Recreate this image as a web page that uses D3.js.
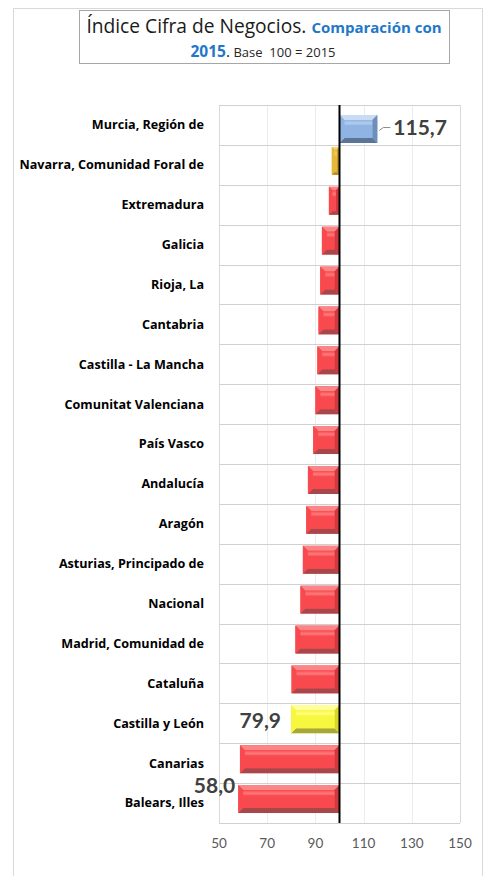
<!DOCTYPE html>
<html>
<head>
<meta charset="utf-8">
<script src="https://cdn.jsdelivr.net/npm/d3@7"></script>
<style>
  html, body { margin: 0; padding: 0; background: #fff; }
  svg { display: block; }
</style>
</head>
<body>
<svg id="chart" width="490" height="876"></svg>
<script>
// ---- data ----
const categories = [
  "Murcia, Región de", "Navarra, Comunidad Foral de", "Extremadura", "Galicia",
  "Rioja, La", "Cantabria", "Castilla - La Mancha", "Comunitat Valenciana",
  "País Vasco", "Andalucía", "Aragón", "Asturias, Principado de", "Nacional",
  "Madrid, Comunidad de", "Cataluña", "Castilla y León", "Canarias", "Balears, Illes"
];
const values = [115.7, 96.8, 95.6, 92.7, 92.0, 91.3, 90.8, 90.0, 89.1, 86.9,
                86.2, 84.8, 83.8, 81.7, 80.1, 79.9, 58.7, 58.0];
const barKind = ["max", "navarra", "red", "red", "red", "red", "red", "red", "red", "red",
                 "red", "red", "red", "red", "red", "cyl", "red", "red"];
const labelled = { "Murcia, Región de": "115,7", "Castilla y León": "79,9", "Balears, Illes": "58,0" };
const xTicks = [50, 70, 90, 110, 130, 150];
const baseValue = 100;

const palette = {
  red:     { face: "#f84a4e", light: "#fb8587", dark: "#a8474b", side: "#d0393e", hi: "#ff7a7d" },
  max:     { face: "#8fb4e3", light: "#c9dcf3", dark: "#5b7596", side: "#6f8fb8", hi: "#b4cdef" },
  navarra: { face: "#e6b83a", light: "#f3d57a", dark: "#a98a2e", side: "#c99c28", hi: "#f0cc66" },
  cyl:     { face: "#f7f740", light: "#ffff9a", dark: "#a8a83a", side: "#d6d62c", hi: "#ffff80" }
};

const svg = d3.select("#chart");

// outer chart frame
svg.append("rect").attr("x", 13.5).attr("y", 8.5).attr("width", 469).attr("height", 880)
  .attr("fill", "none").attr("stroke", "#d9d9d9").attr("stroke-width", 1);

// title box
svg.append("rect").attr("x", 79.5).attr("y", 10.5).attr("width", 370).attr("height", 53)
  .attr("fill", "#fff").attr("stroke", "#a6a6a6").attr("stroke-width", 1);

const t1 = svg.append("text").attr("x", 264).attr("y", 33).attr("text-anchor", "middle");
t1.append("tspan").text("Índice Cifra de Negocios. ")
  .attr("font-family", "'Open Sans', sans-serif").attr("font-size", 19.2).attr("fill", "#1a1a1a");
t1.append("tspan").text("Comparación con")
  .attr("font-family", "'Open Sans', sans-serif").attr("font-weight", "bold").attr("font-size", 15).attr("fill", "#1f78c8");

const t2 = svg.append("text").attr("x", 263).attr("y", 57).attr("text-anchor", "middle");
t2.append("tspan").text("2015")
  .attr("font-family", "'Open Sans', sans-serif").attr("font-weight", "bold").attr("font-size", 15.5).attr("fill", "#1f78c8");
t2.append("tspan").text(".")
  .attr("font-family", "'Open Sans', sans-serif").attr("font-size", 15.5).attr("fill", "#1a1a1a");
t2.append("tspan").text(" Base  100 = 2015").attr("xml:space", "preserve").style("white-space", "pre")
  .attr("font-family", "'Open Sans', sans-serif").attr("font-size", 13).attr("fill", "#262626");

// ---- scales ----
const plot = { left: 219, right: 460, top: 105, bottom: 823 };
const x = d3.scaleLinear().domain([50, 150]).range([plot.left, plot.right]);
const y = d3.scaleBand().domain(categories).range([plot.top, plot.bottom]).padding(0);
const bw = y.bandwidth();
const barH = bw * 0.7;
const offset = k => (k === "max" ? bw * 0.25 : bw * 0.05);

// vertical gridlines
svg.append("g").selectAll("line").data(xTicks).join("line")
  .attr("x1", d => Math.round(x(d)) + 0.5).attr("x2", d => Math.round(x(d)) + 0.5)
  .attr("y1", plot.top).attr("y2", plot.bottom)
  .attr("stroke", d => (d === 50 || d === 150) ? "#d9d9d9" : "#ececec").attr("stroke-width", 1);

// horizontal gridlines at band boundaries
const hLines = categories.map(c => y(c)).concat([plot.bottom]);
svg.append("g").selectAll("line").data(hLines).join("line")
  .attr("x1", plot.left).attr("x2", plot.right)
  .attr("y1", d => Math.round(d) + 0.5).attr("y2", d => Math.round(d) + 0.5)
  .attr("stroke", "#d0d0d0").attr("stroke-width", 1.2);

// gradients
const defs = svg.append("defs");
Object.entries(palette).forEach(([k, p]) => {
  const g = defs.append("linearGradient").attr("id", "face-" + k)
    .attr("x1", 0).attr("y1", 0).attr("x2", 0).attr("y2", 1);
  g.append("stop").attr("offset", "0%").attr("stop-color", p.face);
  g.append("stop").attr("offset", "18%").attr("stop-color", p.hi);
  g.append("stop").attr("offset", "32%").attr("stop-color", p.face);
  g.append("stop").attr("offset", "100%").attr("stop-color", p.face);
});

// bars with bevel
const data = categories.map((c, i) => ({ c, v: values[i], k: barKind[i] }));
const bars = svg.append("g").selectAll("g").data(data).join("g");
bars.each(function(d) {
  const g = d3.select(this);
  const p = palette[d.k];
  const x0 = x(Math.min(d.v, baseValue)), x1 = x(Math.max(d.v, baseValue));
  const y0 = y(d.c) + offset(d.k), y1 = y0 + barH;
  const b = Math.min(5, (x1 - x0) / 3, barH / 3);
  const poly = pts => pts.map(q => q.join(",")).join(" ");
  g.append("rect").attr("x", x0).attr("y", y0).attr("width", x1 - x0).attr("height", barH).attr("fill", p.face);
  g.append("polygon").attr("points", poly([[x0, y0], [x1, y0], [x1 - b, y0 + b], [x0 + b, y0 + b]])).attr("fill", p.light);
  g.append("polygon").attr("points", poly([[x0, y1], [x1, y1], [x1 - b, y1 - b], [x0 + b, y1 - b]])).attr("fill", p.dark);
  g.append("polygon").attr("points", poly([[x0, y0], [x0 + b, y0 + b], [x0 + b, y1 - b], [x0, y1]])).attr("fill", p.face);
  g.append("polygon").attr("points", poly([[x1, y0], [x1 - b, y0 + b], [x1 - b, y1 - b], [x1, y1]])).attr("fill", p.side);
  g.append("rect").attr("x", x0 + b).attr("y", y0 + b).attr("width", Math.max(0, x1 - x0 - 2 * b)).attr("height", barH - 2 * b)
    .attr("fill", `url(#face-${d.k})`);
});

// reference line at 100
svg.append("line").attr("x1", x(baseValue)).attr("x2", x(baseValue))
  .attr("y1", plot.top).attr("y2", plot.bottom).attr("stroke", "#000").attr("stroke-width", 2);

// category labels
svg.append("g").selectAll("text").data(categories).join("text")
  .attr("x", 204).attr("y", d => y(d) + bw / 2).attr("dy", "0.35em")
  .attr("text-anchor", "end").attr("font-family", "'Open Sans', sans-serif").attr("font-weight", "bold")
  .attr("font-size", 12.6).attr("fill", "#000").text(d => d);

// x axis tick labels
svg.append("g").selectAll("text").data(xTicks).join("text")
  .attr("x", d => x(d)).attr("y", 843).attr("dy", "0.35em").attr("text-anchor", "middle")
  .attr("font-family", "Lato, sans-serif").attr("font-size", 13.5).attr("fill", "#595959").text(d => d);

// data labels
const lab = data.filter(d => labelled[d.c]);
lab.forEach(d => {
  const yb = y(d.c) + offset(d.k);
  const txt = labelled[d.c];
  const common = s => s.attr("font-family", "Lato, sans-serif").attr("font-weight", "bold")
    .attr("font-size", 21).attr("fill", "#404040").text(txt);
  if (d.v > baseValue) {
    svg.append("path")
      .attr("d", `M${x(d.v) + 2},${yb + barH * 0.55} L${x(d.v) + 6},${yb + barH * 0.45} L${x(d.v) + 13},${yb + barH * 0.45}`)
      .attr("fill", "none").attr("stroke", "#8c8c8c").attr("stroke-width", 1);
    svg.append("text").attr("x", x(d.v) + 16).attr("y", yb + barH * 0.45).attr("dy", "0.35em").call(common);
  } else if (d.v < 70) {
    svg.append("text").attr("x", x(d.v) - 3).attr("y", yb + 1).attr("dy", "0.35em")
      .attr("text-anchor", "end").call(common);
  } else {
    svg.append("text").attr("x", x(d.v) - 10).attr("y", yb + barH * 0.55).attr("dy", "0.35em")
      .attr("text-anchor", "end").call(common);
  }
});
</script>
</body>
</html>
